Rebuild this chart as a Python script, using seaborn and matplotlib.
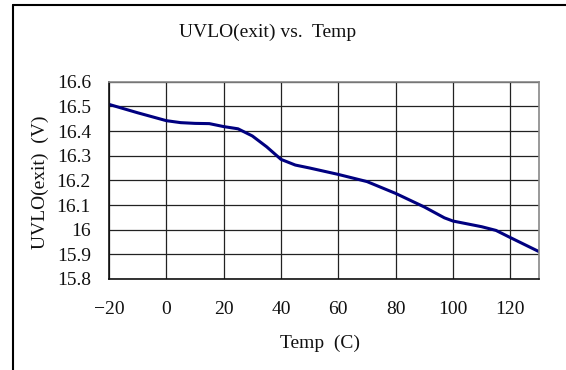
import matplotlib
matplotlib.use("Agg")
import matplotlib.pyplot as plt
import seaborn as sns
import pandas as pd
from matplotlib.lines import Line2D

# === DATA ===
temps = [-20, -10, 0, 5, 10, 15, 20, 25, 30, 35, 40, 45, 50, 60, 70, 80, 90, 97, 100, 110, 115, 120, 130]
uvlo_exit = [16.508, 16.474, 16.442, 16.434, 16.431, 16.430, 16.418, 16.409, 16.380, 16.336, 16.285,
             16.262, 16.250, 16.224, 16.195, 16.147, 16.092, 16.048, 16.035, 16.012, 15.997, 15.968, 15.911]
x_ticks = [-20, 0, 20, 40, 60, 80, 100, 120]
y_ticks = [15.8, 15.9, 16.0, 16.1, 16.2, 16.3, 16.4, 16.5, 16.6]
y_tick_labels = ["15.8", "15.9", "16", "16.1", "16.2", "16.3", "16.4", "16.5", "16.6"]

df = pd.DataFrame({"Temp": temps, "UVLO": uvlo_exit})

# === STYLE ===
sns.set_theme(style="white")
plt.rcParams["font.family"] = ["Liberation Serif", "DejaVu Serif"]

fig = plt.figure(figsize=(5.66, 3.70), dpi=100)
ax = fig.add_axes([109 / 566, 1 - 279 / 370, 430 / 566, (279 - 81.7) / 370])

sns.lineplot(data=df, x="Temp", y="UVLO", ax=ax, color="#000080", linewidth=2.2)

ax.set_xlim(-20, 130)
ax.set_ylim(15.8, 16.6)
ax.set_xticks(x_ticks)
ax.set_yticks(y_ticks)
ax.set_yticklabels(y_tick_labels)
ax.tick_params(axis="x", length=0, pad=16, labelsize=14, colors="#111111")
ax.tick_params(axis="y", length=0, pad=13, labelsize=14, colors="#111111")

ax.grid(True, color="#222222", linewidth=0.9)
ax.set_axisbelow(True)
for side in ["left", "bottom"]:
    ax.spines[side].set_color("#111111")
    ax.spines[side].set_linewidth(1.2)
for side in ["top", "right"]:
    ax.spines[side].set_color("#888888")
    ax.spines[side].set_linewidth(1.2)

ax.set_xlabel("")
ax.set_ylabel("")

# --- titles and labels ---
fig.text(268 / 566, 1 - 32 / 370, "UVLO(exit) vs.  Temp", ha="center", va="center",
         fontsize=14, color="#111111")
fig.text(40 / 566, 1 - 182 / 370, "UVLO(exit)  (V)", ha="center", va="center",
         rotation=90, fontsize=14, color="#111111")
fig.text(320 / 566, 1 - 343 / 370, "Temp  (C)", ha="center", va="center",
         fontsize=14, color="#111111")

# --- outer frame (left and top only) ---
fig.add_artist(Line2D([13 / 566, 13 / 566], [0, 1 - 5 / 370], transform=fig.transFigure,
                      color="black", linewidth=1.5))
fig.add_artist(Line2D([13 / 566, 1], [1 - 5 / 370, 1 - 5 / 370], transform=fig.transFigure,
                      color="black", linewidth=1.5))

plt.savefig("out.png", dpi=100)
plt.close()
